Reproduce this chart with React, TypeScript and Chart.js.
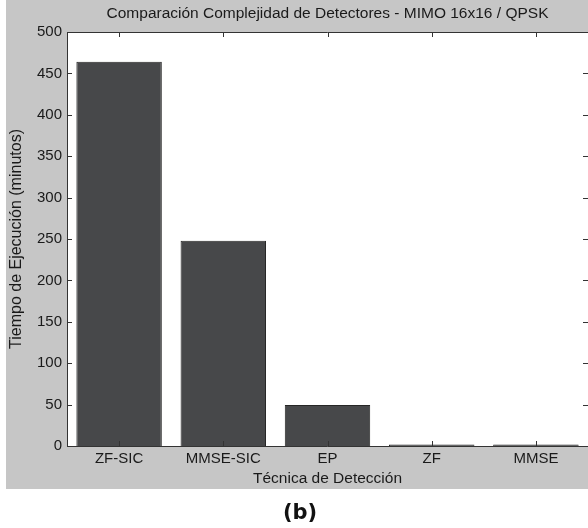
import { useEffect, useRef } from 'react';
import { Chart, registerables } from 'chart.js';

Chart.register(...registerables);

const categories = ['ZF-SIC', 'MMSE-SIC', 'EP', 'ZF', 'MMSE'];
const tiempos = [464, 248, 49.5, 1.9, 1.7];
const yMin = 0;
const yMax = 500;
const yStep = 50;
const chartTitle = 'Comparación Complejidad de Detectores - MIMO 16x16 / QPSK';
const xTitle = 'Técnica de Detección';
const yTitle = 'Tiempo de Ejecución (minutos)';
const caption = '(b)';

const FONT = "'Liberation Sans', Arial, sans-serif";
const CAPTION_FONT = "'DejaVu Sans', Verdana, sans-serif";

const framePlugin = {
  id: 'matlabFrame',
  beforeDraw(chart: any) {
    const { ctx, chartArea: a } = chart;
    ctx.save();
    ctx.fillStyle = '#ffffff';
    ctx.fillRect(0, 0, chart.width, chart.height);
    ctx.fillStyle = '#c6c6c6';
    ctx.fillRect(6, 0, chart.width - 6, 489);
    ctx.fillStyle = '#ffffff';
    ctx.fillRect(a.left, a.top, a.right - a.left, a.bottom - a.top);
    ctx.restore();
  },
  afterDatasetsDraw(chart: any) {
    const { ctx, chartArea: a, scales } = chart;
    const x = scales.x;
    const y = scales.y;
    const tl = 5;
    ctx.save();
    ctx.strokeStyle = '#333333';
    ctx.lineWidth = 1;
    ctx.beginPath();
    ctx.moveTo(a.left + 0.5, a.top + 0.5);
    ctx.lineTo(a.left + 0.5, a.bottom + 0.5);
    ctx.lineTo(a.right, a.bottom + 0.5);
    ctx.moveTo(a.left + 0.5, a.top + 0.5);
    ctx.lineTo(a.right, a.top + 0.5);
    y.ticks.forEach((t: any) => {
      const py = Math.round(y.getPixelForValue(t.value)) + 0.5;
      ctx.moveTo(a.left, py);
      ctx.lineTo(a.left + tl, py);
      ctx.moveTo(a.right - tl, py);
      ctx.lineTo(a.right, py);
    });
    categories.forEach((_c, i) => {
      const px = Math.round(x.getPixelForValue(i)) + 0.5;
      ctx.moveTo(px, a.top);
      ctx.lineTo(px, a.top + tl);
      ctx.moveTo(px, a.bottom);
      ctx.lineTo(px, a.bottom - tl);
    });
    ctx.stroke();
    ctx.restore();
  },
  afterDraw(chart: any) {
    const { ctx, chartArea: a } = chart;
    ctx.save();
    ctx.fillStyle = '#1a1a1a';
    ctx.font = `15.5px ${FONT}`;
    ctx.textAlign = 'center';
    ctx.textBaseline = 'middle';
    ctx.fillText(chartTitle, (a.left + a.right) / 2, 14);
    ctx.fillStyle = '#111111';
    ctx.font = `bold 21px ${CAPTION_FONT}`;
    ctx.textBaseline = 'alphabetic';
    ctx.fillText(caption, 300, 519);
    ctx.restore();
  },
};

export default function App() {
  const ref = useRef<HTMLCanvasElement | null>(null);

  useEffect(() => {
    if (!ref.current) return;
    const chart = new Chart(ref.current, {
      type: 'bar',
      data: {
        labels: categories,
        datasets: [
          {
            data: tiempos,
            backgroundColor: '#47484a',
            borderColor: '#262626',
            borderWidth: 1,
            barPercentage: 0.82,
            categoryPercentage: 1,
          },
        ],
      },
      options: {
        responsive: false,
        animation: false,
        layout: { padding: { top: 32, left: 0, right: 0, bottom: 39 } },
        plugins: {
          legend: { display: false },
          tooltip: { enabled: false },
          title: { display: false },
        },
        scales: {
          x: {
            type: 'category',
            offset: true,
            grid: { display: false, drawTicks: false },
            border: { display: false },
            ticks: { color: '#1a1a1a', font: { family: FONT, size: 15 }, padding: 4, maxRotation: 0 },
            title: {
              display: true,
              text: xTitle,
              color: '#1a1a1a',
              font: { family: FONT, size: 15.5 },
              padding: { top: 0, bottom: 1 },
            },
            afterFit: (s: any) => {
              s.height = 43;
            },
          },
          y: {
            min: yMin,
            max: yMax,
            grid: { display: false, drawTicks: false },
            border: { display: false },
            ticks: { stepSize: yStep, color: '#1a1a1a', font: { family: FONT, size: 15 }, padding: 5 },
            title: {
              display: true,
              text: yTitle,
              color: '#1a1a1a',
              font: { family: FONT, size: 16 },
              padding: { top: 7, bottom: 0 },
            },
            afterFit: (s: any) => {
              s.width = 67;
            },
          },
        },
      },
      plugins: [framePlugin],
    });
    return () => chart.destroy();
  }, []);

  return (
    <div style={{ position: 'fixed', left: 0, top: 0, width: 588, height: 528, background: '#fff' }}>
      <canvas ref={ref} width={588} height={528} style={{ display: 'block', width: 588, height: 528 }} />
    </div>
  );
}
